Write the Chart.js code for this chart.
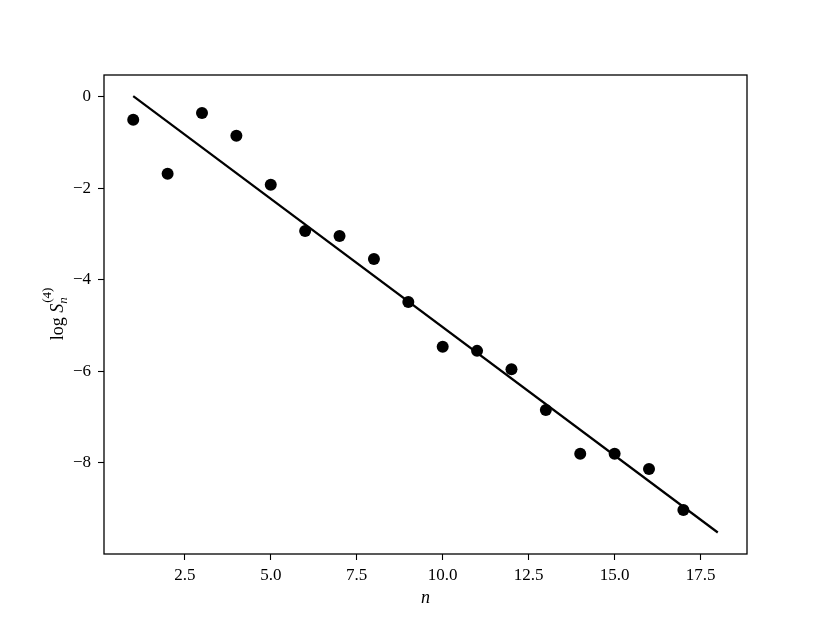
<!DOCTYPE html>
<html>
<head>
<meta charset="utf-8">
<script src="https://cdn.jsdelivr.net/npm/chart.js@4.4.1/dist/chart.umd.min.js"></script>
<style>
  html, body { margin: 0; padding: 0; background: #ffffff; }
  canvas { display: block; }
</style>
</head>
<body>
<canvas id="chart" width="830" height="623"></canvas>
<script>
// data
const nValues = [1, 2, 3, 4, 5, 6, 7, 8, 9, 10, 11, 12, 13, 14, 15, 16, 17];
const logS = [-0.50, -1.68, -0.35, -0.85, -1.92, -2.93, -3.04, -3.54, -4.48,
              -5.46, -5.55, -5.95, -6.84, -7.80, -7.80, -8.13, -9.03];
const fitX = [1, 18];
const fitY = [0.02, -9.52];
const xTicks = [2.5, 5.0, 7.5, 10.0, 12.5, 15.0, 17.5];
const yTicks = [0, -2, -4, -6, -8];

const SERIF = '"Liberation Serif", "DejaVu Serif", serif';

// axes box on all four sides + axis labels
const framePlugin = {
  id: 'frame',
  afterDraw(chart) {
    const { ctx, chartArea: a } = chart;
    ctx.save();
    ctx.strokeStyle = '#000';
    ctx.lineWidth = 1.3;
    ctx.strokeRect(a.left, a.top, a.right - a.left, a.bottom - a.top);

    // x label
    ctx.fillStyle = '#000';
    ctx.font = 'italic 18px ' + SERIF;
    ctx.textAlign = 'center';
    ctx.textBaseline = 'alphabetic';
    ctx.fillText('n', (a.left + a.right) / 2, 603);

    // y label: log S_n^(4)
    ctx.translate(63, (a.top + a.bottom) / 2);
    ctx.rotate(-Math.PI / 2);
    ctx.textAlign = 'left';
    const big = '18px ' + SERIF, bigI = 'italic 18px ' + SERIF;
    const small = '13px ' + SERIF, smallI = 'italic 13px ' + SERIF;
    ctx.font = big; const w1 = ctx.measureText('log ').width;
    ctx.font = bigI; const w2 = ctx.measureText('S').width;
    ctx.font = smallI; const w3 = ctx.measureText('n').width;
    ctx.font = small; const w4 = ctx.measureText('(4)').width;
    const total = w1 + w2 + Math.max(w3, w4);
    let x = -total / 2;
    ctx.font = big; ctx.fillText('log ', x, 0); x += w1;
    ctx.font = bigI; ctx.fillText('S', x, 0); x += w2;
    ctx.font = smallI; ctx.fillText('n', x, 4);
    ctx.font = small; ctx.fillText('(4)', x + 1, -12);
    ctx.restore();
  }
};

const fmtMinus = v => (v < 0 ? '\u2212' + Math.abs(v) : String(v));

new Chart(document.getElementById('chart'), {
  type: 'scatter',
  data: {
    datasets: [
      {
        label: 'fit',
        data: fitX.map((x, i) => ({ x, y: fitY[i] })),
        showLine: true,
        borderColor: '#000',
        borderWidth: 2.2,
        pointRadius: 0,
        fill: false
      },
      {
        label: 'data',
        data: nValues.map((x, i) => ({ x, y: logS[i] })),
        backgroundColor: '#000',
        borderColor: '#000',
        pointRadius: 6,
        pointBorderWidth: 0
      }
    ]
  },
  plugins: [framePlugin],
  options: {
    responsive: false,
    animation: false,
    devicePixelRatio: 1,
    layout: { padding: { top: 75, right: 83, bottom: 0, left: 0 } },
    plugins: {
      legend: { display: false },
      tooltip: { enabled: false }
    },
    scales: {
      x: {
        type: 'linear',
        min: 0.15,
        max: 18.85,
        afterFit(scale) { scale.height = 69; },
        afterBuildTicks(scale) { scale.ticks = xTicks.map(v => ({ value: v })); },
        grid: { drawOnChartArea: false, drawTicks: true, tickLength: 6, tickColor: '#000', tickWidth: 1.1 },
        border: { display: false },
        ticks: {
          color: '#000',
          padding: 5,
          maxRotation: 0,
          autoSkip: false,
          font: { family: SERIF, size: 17 },
          callback: v => v.toFixed(1)
        }
      },
      y: {
        type: 'linear',
        min: -9.99,
        max: 0.48,
        afterFit(scale) { scale.width = 104; },
        afterBuildTicks(scale) { scale.ticks = yTicks.map(v => ({ value: v })); },
        grid: { drawOnChartArea: false, drawTicks: true, tickLength: 6, tickColor: '#000', tickWidth: 1.1 },
        border: { display: false },
        ticks: {
          color: '#000',
          padding: 7,
          autoSkip: false,
          font: { family: SERIF, size: 17 },
          callback: v => fmtMinus(v)
        }
      }
    }
  }
});
</script>
</body>
</html>
